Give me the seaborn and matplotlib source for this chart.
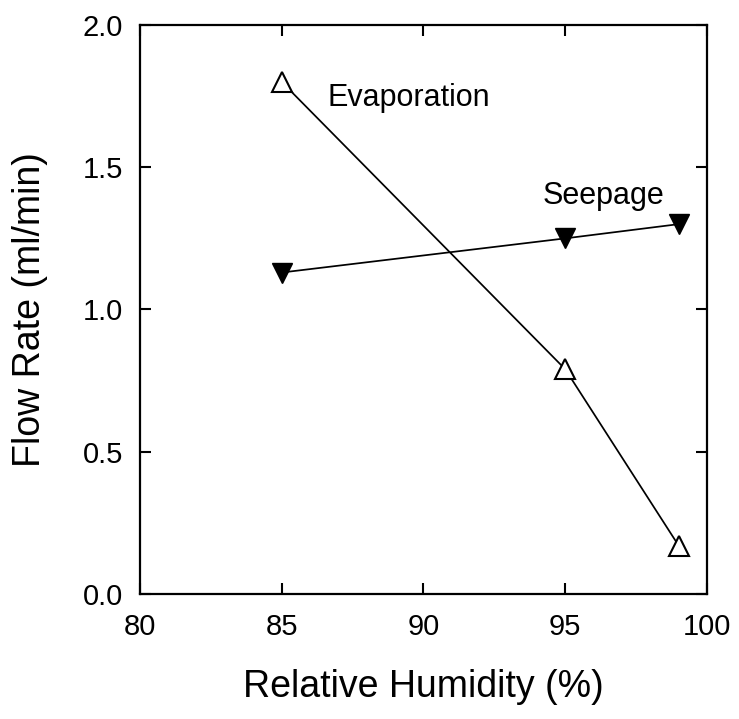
import matplotlib.pyplot as plt
import seaborn as sns

humidity = [85, 95, 99]
evaporation = [1.80, 0.79, 0.17]
seepage = [1.13, 1.25, 1.30]

x_ticks = [80, 85, 90, 95, 100]
y_ticks = [0.0, 0.5, 1.0, 1.5, 2.0]

sns.set_style("ticks")
plt.rcParams['font.family'] = ['Liberation Sans', 'DejaVu Sans']
plt.rcParams['text.color'] = 'black'
plt.rcParams['axes.labelcolor'] = 'black'
plt.rcParams['xtick.color'] = 'black'
plt.rcParams['ytick.color'] = 'black'
plt.rcParams['axes.edgecolor'] = 'black'

fig = plt.figure(figsize=(7.39, 7.19), dpi=100)
ax = fig.add_axes([0.1894, 0.1739, 0.7673, 0.7913])

sns.lineplot(x=humidity, y=evaporation, ax=ax, color="black", linewidth=1.25,
             marker="^", markersize=14, markerfacecolor="white",
             markeredgecolor="black", markeredgewidth=1.5)
sns.lineplot(x=humidity, y=seepage, ax=ax, color="black", linewidth=1.25,
             marker="v", markersize=14, markerfacecolor="black",
             markeredgecolor="black", markeredgewidth=1.0)

ax.text(86.6, 1.745, "Evaporation", fontsize=22, va="center", ha="left")
ax.text(94.2, 1.40, "Seepage", fontsize=22, va="center", ha="left")

ax.set_xlim(80, 100)
ax.set_ylim(0, 2.0)
ax.set_xticks(x_ticks)
ax.set_yticks(y_ticks)
ax.set_yticklabels([f"{v:.1f}" for v in y_ticks])
ax.tick_params(direction="in", length=8, width=1.5, labelsize=21,
               top=True, right=True)
ax.tick_params(axis="x", pad=14)
ax.tick_params(axis="y", pad=12)
for s in ax.spines.values():
    s.set_linewidth(1.6)

ax.set_xlabel("Relative Humidity (%)", fontsize=27, labelpad=20)
ax.set_ylabel("Flow Rate (ml/min)", fontsize=27, labelpad=25)

plt.savefig("out.png", dpi=100)
plt.close()
